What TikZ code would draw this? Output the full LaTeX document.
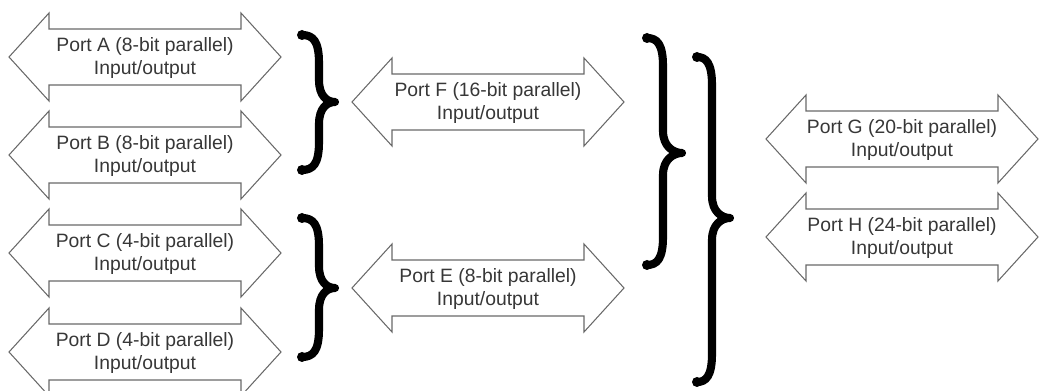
\documentclass[tikz,border=0pt]{standalone}
\usepackage{fontspec}
\setmainfont{Liberation Sans}
\definecolor{portedge}{RGB}{105,105,105}
\definecolor{porttext}{RGB}{55,55,55}

\begin{document}
\begin{tikzpicture}[x=0.02cm,y=-0.02cm,
port/.style={align=center,text=porttext,inner sep=0pt,
font=\fontsize{11pt}{12.6pt}\selectfont},
portline/.style={draw=portedge,line width=0.6pt,line join=miter},
brace/.style={line width=4.6pt,line cap=round,line join=round}]
\useasboundingbox (0,0) rectangle (1039,391);

% the ports, one double arrow each
\foreach \p/\x/\y/\bits in {A/145/57/8,B/145/155/8,C/145/253/4,D/145/352/4,
F/488/102/16,E/488/288/8,G/902/139/20,H/902/237/24}{
\node[port] (port\p) at (\x,\y+1) {Port \p\ (\bits-bit parallel)\\Input/output};
\draw[portline] (\x,\y) ++(-136,0) -- ++(40,-44) -- ++(0,16)
-- ++(192,0) -- ++(0,-16) -- ++(40,44) -- ++(-40,44) -- ++(0,-16)
-- ++(-192,0) -- ++(0,16) -- cycle;
}

% braces joining them
\foreach \xe/\xv/\xt/\yt/\ym/\yb in {302/319/335/35/102/170,302/319/335/218/288/357,
647/663/682/38/153/265,697/712/730/57/218/382}{
\draw[brace] (\xe,\yt) .. controls (\xv-6,\yt) and (\xv,\yt+6) .. (\xv,\yt+28)
-- (\xv,\ym-22) .. controls (\xv,\ym-6) and (\xt-8,\ym) .. (\xt,\ym)
.. controls (\xt-8,\ym) and (\xv,\ym+6) .. (\xv,\ym+22)
-- (\xv,\yb-28) .. controls (\xv,\yb-6) and (\xv-6,\yb) .. (\xe,\yb);
\fill (\xe,\yt) circle (0.1cm) (\xe,\yb) circle (0.1cm);
}
\end{tikzpicture}
\end{document}
